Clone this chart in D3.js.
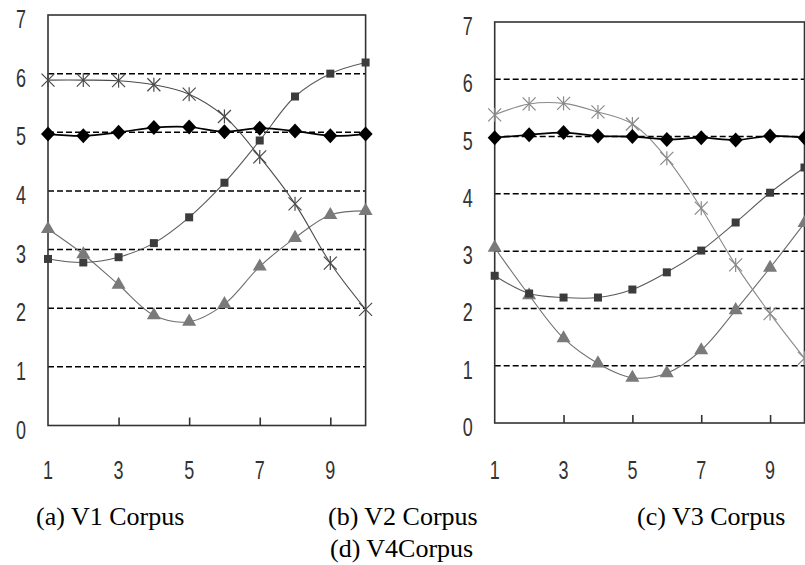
<!DOCTYPE html>
<html><head><meta charset="utf-8">
<script src="https://cdn.jsdelivr.net/npm/d3@7"></script>
<style>
html,body{margin:0;padding:0;background:#fff;}
svg{display:block;}
</style></head>
<body>
<svg id="chart" width="805" height="565"></svg>
<script>
// ---------- data ----------
const xValues = [1, 2, 3, 4, 5, 6, 7, 8, 9, 10];
const xTickLabels = [1, 3, 5, 7, 9];
const yTickLabels = [0, 1, 2, 3, 4, 5, 6, 7];
const gridValues = [1, 2, 3, 4, 5, 6];

// left panel
const leftDiamond  = [4.97, 4.94, 5.00, 5.08, 5.09, 5.01, 5.07, 5.02, 4.94, 4.97];
const leftAsterisk = [5.89, 5.89, 5.88, 5.81, 5.65, 5.27, 4.58, 3.78, 2.77, 1.98];
const leftSquare   = [2.84, 2.78, 2.87, 3.11, 3.55, 4.14, 4.86, 5.61, 6.00, 6.19];
const leftTriangle = [3.35, 2.92, 2.40, 1.88, 1.77, 2.07, 2.71, 3.20, 3.59, 3.66];

// right panel
const rightDiamond  = [4.98, 5.03, 5.07, 5.01, 5.00, 4.95, 4.98, 4.94, 5.01, 4.98];
const rightAsterisk = [5.38, 5.57, 5.58, 5.43, 5.22, 4.62, 3.75, 2.76, 1.91, 1.13];
const rightSquare   = [2.57, 2.26, 2.19, 2.19, 2.33, 2.63, 3.01, 3.50, 4.02, 4.46];
const rightTriangle = [3.06, 2.23, 1.48, 1.04, 0.79, 0.87, 1.27, 1.97, 2.71, 3.49];

const captions = [
  {text: "(a) V1 Corpus", x: 36,  y: 525},
  {text: "(b) V2 Corpus", x: 328, y: 525},
  {text: "(c) V3 Corpus", x: 637, y: 525},
  {text: "(d) V4Corpus",  x: 330, y: 557}
];

// ---------- drawing ----------
const svg = d3.select("#chart");
const digitFont = "'Liberation Sans', Arial, sans-serif";

function drawPanel(cfg) {
  const x = d3.scaleLinear().domain([1, 10]).range([cfg.x0, cfg.x1]);
  const y = d3.scaleLinear().domain([0, 7]).range([cfg.y0, cfg.y1]);
  const g = svg.append("g");

  // dashed gridlines
  g.selectAll("line.grid").data(gridValues).enter().append("line")
    .attr("x1", cfg.x0).attr("x2", cfg.x1)
    .attr("y1", d => y(d)).attr("y2", d => y(d))
    .attr("stroke", "#000").attr("stroke-width", 1.5)
    .attr("stroke-dasharray", "6,3");

  // plot box
  g.append("rect")
    .attr("x", cfg.x0).attr("y", y(7))
    .attr("width", cfg.x1 - cfg.x0).attr("height", y(0) - y(7))
    .attr("fill", "none").attr("stroke", "#333").attr("stroke-width", 1.6);

  // bottom axis ticks (inward) via d3 axis
  const xAxis = d3.axisTop(x).tickValues(xTickLabels.filter(v => v !== 1))
    .tickSize(8).tickFormat("");
  const ax = g.append("g").attr("transform", `translate(0,${y(0)})`).call(xAxis);
  ax.select(".domain").remove();
  ax.selectAll(".tick line").attr("stroke", "#333").attr("stroke-width", 1.6);

  // x tick labels
  g.selectAll("text.xl").data(xTickLabels).enter().append("text")
    .attr("transform", d => `translate(${x(d)},${cfg.xLabelY}) scale(0.72,1)`)
    .attr("text-anchor", "middle")
    .attr("font-family", digitFont)
    .attr("font-size", 25).attr("fill", "#333")
    .text(d => d);

  // y tick labels
  g.selectAll("text.yl").data(yTickLabels).enter().append("text")
    .attr("transform", d => `translate(${cfg.x0 - 22},${y(d) + 13}) scale(0.72,1)`)
    .attr("text-anchor", "end")
    .attr("font-family", digitFont)
    .attr("font-size", 25).attr("fill", "#333")
    .text(d => d);

  const line = d3.line()
    .x((d, i) => x(xValues[i]))
    .y(d => y(d))
    .curve(d3.curveCatmullRom.alpha(0.5));

  function series(vals, color, width) {
    g.append("path").datum(vals).attr("d", line)
      .attr("fill", "none").attr("stroke", color).attr("stroke-width", width);
  }

  // triangles
  series(cfg.triangle, "#6e6e6e", 1.1);
  g.selectAll("path.tri").data(cfg.triangle).enter().append("path")
    .attr("d", d3.symbol().type(d3.symbolTriangle).size(85))
    .attr("transform", (d, i) => `translate(${x(xValues[i])},${y(d)})`)
    .attr("fill", "#7a7a7a");

  // squares
  series(cfg.square, "#5a5a5a", 1.1);
  g.selectAll("rect.sq").data(cfg.square).enter().append("rect")
    .attr("x", (d, i) => x(xValues[i]) - 4).attr("y", d => y(d) - 4)
    .attr("width", 8).attr("height", 8)
    .attr("fill", "#3c3c3c");

  // asterisks
  series(cfg.asterisk, cfg.asteriskColor, 1.1);
  const ast = g.selectAll("g.ast").data(cfg.asterisk).enter().append("g")
    .attr("transform", (d, i) => `translate(${x(xValues[i])},${y(d)})`)
    .attr("stroke", cfg.asteriskColor).attr("stroke-width", 1.2);
  ast.append("line").attr("x1", -6.5).attr("y1", -6.5).attr("x2", 6.5).attr("y2", 6.5);
  ast.append("line").attr("x1", -6.5).attr("y1", 6.5).attr("x2", 6.5).attr("y2", -6.5);
  ast.append("line").attr("x1", 0).attr("y1", -7).attr("x2", 0).attr("y2", 7);

  // diamonds
  series(cfg.diamond, "#000", 1.7);
  g.selectAll("path.dia").data(cfg.diamond).enter().append("path")
    .attr("d", "M0,-7.5L7,0L0,7.5L-7,0Z")
    .attr("transform", (d, i) => `translate(${x(xValues[i])},${y(d)})`)
    .attr("fill", "#000");
}

drawPanel({
  x0: 48, x1: 365.6, y0: 425.5, y1: 15, xLabelY: 479,
  diamond: leftDiamond, asterisk: leftAsterisk, square: leftSquare, triangle: leftTriangle,
  asteriskColor: "#4a4a4a"
});
drawPanel({
  x0: 494.7, x1: 804.5, y0: 423, y1: 22, xLabelY: 479,
  diamond: rightDiamond, asterisk: rightAsterisk, square: rightSquare, triangle: rightTriangle,
  asteriskColor: "#8a8a8a"
});

// captions
svg.selectAll("text.cap").data(captions).enter().append("text")
  .attr("x", d => d.x).attr("y", d => d.y)
  .attr("font-family", "'Liberation Serif', 'Times New Roman', serif")
  .attr("font-size", 26).attr("fill", "#000")
  .text(d => d.text);
</script>
</body></html>
